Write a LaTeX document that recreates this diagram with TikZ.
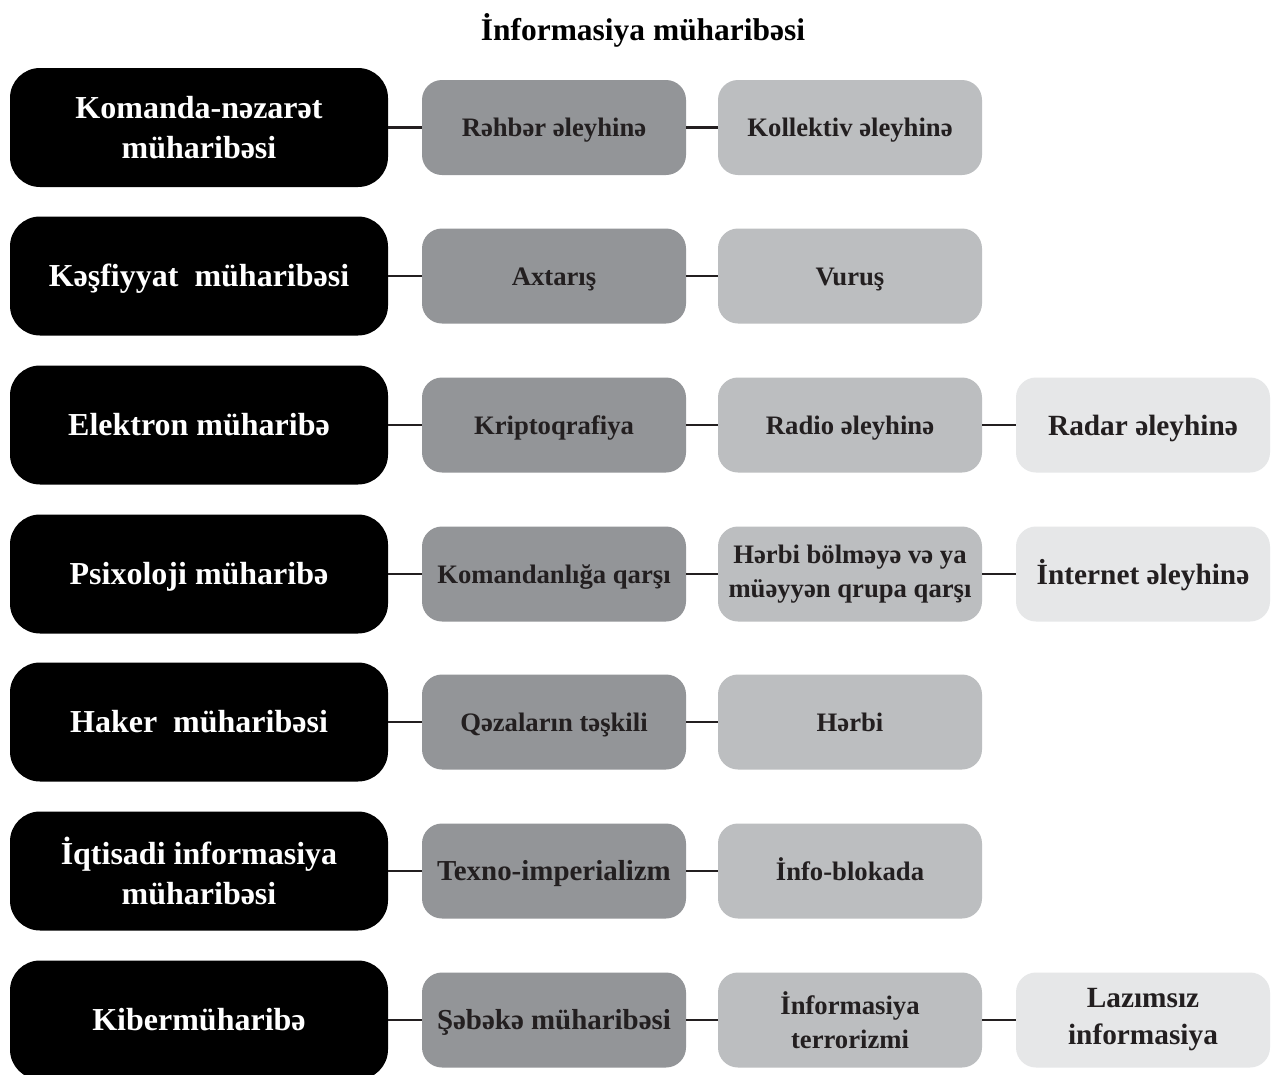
\documentclass[tikz,border=0pt]{standalone}
\usepackage{fontspec}
\setmainfont{Liberation Serif}
\definecolor{gA}{HTML}{939598}
\definecolor{gB}{HTML}{BCBEC0}
\definecolor{gC}{HTML}{E6E7E8}
\definecolor{ink}{HTML}{231F20}
\tikzset{
  catbox/.style={rectangle, rounded corners=30*0.75pt, fill=black, text=white, inner sep=0pt,
    minimum width=378*0.75pt, minimum height=119*0.75pt, align=center,
    font=\bfseries\fontsize{24}{30}\selectfont},
  lvlone/.style={rectangle, rounded corners=20*0.75pt, fill=gA, text=ink, inner sep=0pt,
    minimum width=264*0.75pt, minimum height=95*0.75pt, align=center,
    font=\bfseries\fontsize{20}{25.5}\selectfont},
  lvltwo/.style={lvlone, fill=gB},
  lvlthree/.style={lvlone, fill=gC, minimum width=254*0.75pt,
    font=\bfseries\fontsize{22}{27.75}\selectfont},
  bigger/.style={font=\bfseries\fontsize{21.7}{27}\selectfont},
  onecat/.style={text height=18pt, text depth=1.7pt},
  onesub/.style={text height=15pt, text depth=1.4pt},
  onethree/.style={text height=16.5pt, text depth=1.5pt},
  onebig/.style={text height=16.3pt, text depth=1.5pt},
  conn/.style={draw=ink, line width=2.2pt},
  titletext/.style={font=\bfseries\fontsize{23.6}{28}\selectfont, text=black, inner sep=0pt}
}
\begin{document}
\begin{tikzpicture}[x=0.75pt,y=-0.75pt]
\useasboundingbox[fill=white] (0,0) rectangle (1272,1075);
\node[titletext] (title) at (643,30) {İnformasiya müharibəsi};
% row 1
\node[catbox] (k1) at (199,127.5) {Komanda-nəzarət\\müharibəsi};
\node[lvlone, onesub] (a1) at (554,127.5) {Rəhbər əleyhinə};
\node[lvltwo, onesub] (b1) at (850,127.5) {Kollektiv əleyhinə};
% row 2
\node[catbox, onecat] (k2) at (199,276) {Kəşfiyyat\ \ müharibəsi};
\node[lvlone, onesub] (a2) at (554,276) {Axtarış};
\node[lvltwo, onesub] (b2) at (850,276) {Vuruş};
% row 3
\node[catbox, onecat] (k3) at (199,425) {Elektron müharibə};
\node[lvlone, onesub] (a3) at (554,425) {Kriptoqrafiya};
\node[lvltwo, onesub] (b3) at (850,425) {Radio əleyhinə};
\node[lvlthree, onethree] (c3) at (1143,425) {Radar əleyhinə};
% row 4
\node[catbox, onecat] (k4) at (199,574) {Psixoloji müharibə};
\node[lvlone, onesub] (a4) at (554,574) {Komandanlığa qarşı};
\node[lvltwo] (b4) at (850,574) {Hərbi bölməyə və ya\\müəyyən qrupa qarşı};
\node[lvlthree, onethree] (c4) at (1143,574) {İnternet əleyhinə};
% row 5
\node[catbox, onecat] (k5) at (199,722) {Haker\ \ müharibəsi};
\node[lvlone, onesub] (a5) at (554,722) {Qəzaların təşkili};
\node[lvltwo, onesub] (b5) at (850,722) {Hərbi};
% row 6
\node[catbox] (k6) at (199,871) {İqtisadi informasiya\\müharibəsi};
\node[lvlone, bigger, onebig] (a6) at (554,871) {Texno-imperializm};
\node[lvltwo, onesub] (b6) at (850,871) {İnfo-blokada};
% row 7
\node[catbox, onecat] (k7) at (199,1020) {Kibermüharibə};
\node[lvlone, bigger, onebig] (a7) at (554,1020) {Şəbəkə müharibəsi};
\node[lvltwo] (b7) at (850,1020) {İnformasiya\\terrorizmi};
\node[lvlthree] (c7) at (1143,1020) {Lazımsız\\informasiya};
% connectors
\foreach \r in {1,...,7}{
  \draw[conn] (k\r.east) -- (a\r.west);
  \draw[conn] (a\r.east) -- (b\r.west);
}
\foreach \r in {3,4,7}{
  \draw[conn] (b\r.east) -- (c\r.west);
}
\end{tikzpicture}
\end{document}
